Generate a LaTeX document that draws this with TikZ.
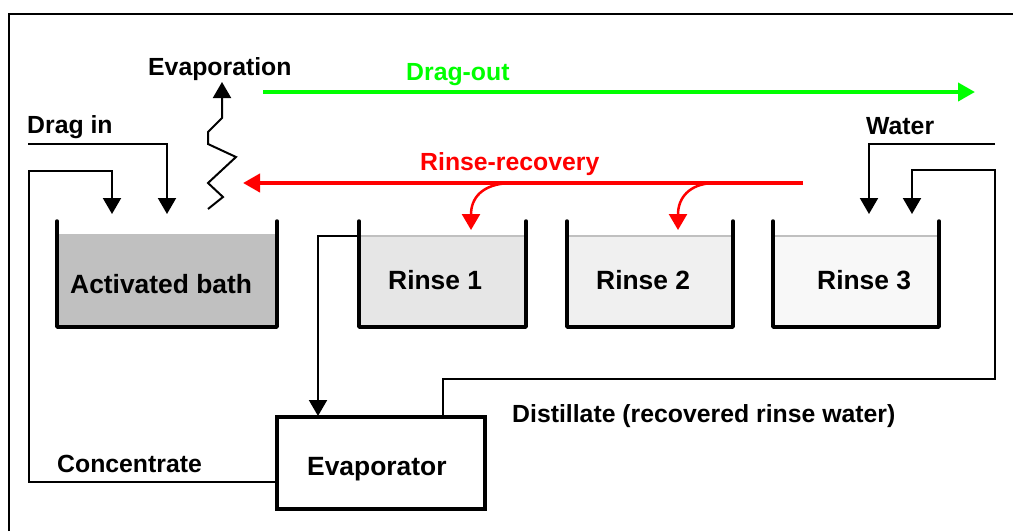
\documentclass[tikz,border=0pt]{standalone}
\usepackage{fontspec}
\setmainfont{Liberation Sans}
\usetikzlibrary{arrows.meta}
\definecolor{dgreen}{RGB}{0,255,0}
\definecolor{dred}{RGB}{255,0,0}
\definecolor{bathfill}{RGB}{192,192,192}
\definecolor{r1fill}{RGB}{230,230,230}
\definecolor{r2fill}{RGB}{240,240,240}
\definecolor{r3fill}{RGB}{248,248,248}
\definecolor{waterline}{RGB}{192,192,192}
\begin{document}
\begin{tikzpicture}[x=1pt,y=-1pt,
  lbl/.style={font=\fontsize{24.8}{28}\selectfont\bfseries, inner sep=0pt, anchor=base west},
  tanklbl/.style={font=\fontsize{26.4}{30}\selectfont\bfseries, inner sep=0pt, anchor=base west},
  wall/.style={line width=3.5pt, line cap=round, line join=round},
  pipe/.style={line width=2pt},
  tip/.style={-{Triangle[length=16pt,width=18pt]}},
  bigtip/.style={-{Triangle[length=17pt,width=18pt]}},
]
\useasboundingbox (0,0) rectangle (1013,531);
% frame
\draw[line width=2.5pt] (9,531) -- (9,14) -- (1013,14);

% tanks
\fill[bathfill] (57,234) rectangle (277,327);
\draw[wall] (57,221) -- (57,327) -- (277,327) -- (277,221);
\fill[r1fill] (359,236) rectangle (526,327);
\draw[waterline, line width=2pt] (359,236) -- (526,236);
\draw[wall] (359,221) -- (359,327) -- (526,327) -- (526,221);
\fill[r2fill] (567,236) rectangle (733,327);
\draw[waterline, line width=2pt] (567,236) -- (733,236);
\draw[wall] (567,221) -- (567,327) -- (733,327) -- (733,221);
\fill[r3fill] (773,236) rectangle (939,327);
\draw[waterline, line width=2pt] (773,236) -- (939,236);
\draw[wall] (773,221) -- (773,327) -- (939,327) -- (939,221);

% tank labels
\node[tanklbl] (bath) at (70,293) {Activated bath};
\node[tanklbl] (rinse1) at (388,289) {Rinse 1};
\node[tanklbl] (rinse2) at (596,289) {Rinse 2};
\node[tanklbl] (rinse3) at (817,289) {Rinse 3};

% evaporator
\node[draw, line width=3.5pt, minimum width=208pt, minimum height=92pt, inner sep=0pt] (evap) at (381,463) {};
\node[tanklbl] (evaptxt) at (307,475) {Evaporator};

% labels
\node[lbl] (evaplbl) at (148,75) {Evaporation};
\node[lbl] (draginlbl) at (27,133) {Drag in};
\node[lbl, text=dgreen] (dragoutlbl) at (406,80) {Drag-out};
\node[lbl, text=dred] (rrlbl) at (420,170) {Rinse-recovery};
\node[lbl] (waterlbl) at (866,134) {Water};
\node[lbl] (distlbl) at (512,422) {Distillate (recovered rinse water)};
\node[lbl] (conclbl) at (57,472) {Concentrate};

% coordinates
\coordinate (in1) at (112,214);
\coordinate (in2) at (167,214);
\coordinate (dragstart) at (28,144);
\coordinate (concout) at (277,482);
\coordinate (r1out) at (359,236);
\coordinate (evapin) at (318,416);
\coordinate (distout) at (443,416);
\coordinate (waterstart) at (995,144);
\coordinate (in3) at (869,214);
\coordinate (in4) at (912,214);
\coordinate (evbase) at (208,209);
\coordinate (evtop) at (222,82);
\coordinate (gstart) at (263,92);
\coordinate (gend) at (975,92);
\coordinate (rstart) at (803,183);
\coordinate (rend) at (243,183);
\coordinate (rb1) at (510,183);
\coordinate (rt1) at (471,230);
\coordinate (rb2) at (713,183);
\coordinate (rt2) at (678,230);

% pipes
\draw[pipe,tip] (dragstart) -| (in2);
\draw[pipe,tip] (concout) -| (29,171) -| (in1);
\draw[pipe,tip] (r1out) -| (evapin);
\draw[pipe,tip] (distout) |- (995,379) |- (912,170) -- (in4);
\draw[pipe,tip] (waterstart) -| (in3);

% evaporation zigzag
\draw[pipe,tip] (evbase) -- (223,197) -- (208,183) -- (236,157) -- (208,144) -- (208,132) -- (222,118) -- (evtop);

% drag-out
\draw[dgreen, line width=4pt, bigtip] (gstart) -- (gend);
% rinse recovery
\draw[dred, line width=4pt, bigtip] (rstart) -- (rend);
\draw[dred, line width=2.5pt, tip] (rb1) .. controls (482,184) and (471,198) .. (rt1);
\draw[dred, line width=2.5pt, tip] (rb2) .. controls (689,184) and (678,198) .. (rt2);
\end{tikzpicture}
\end{document}
